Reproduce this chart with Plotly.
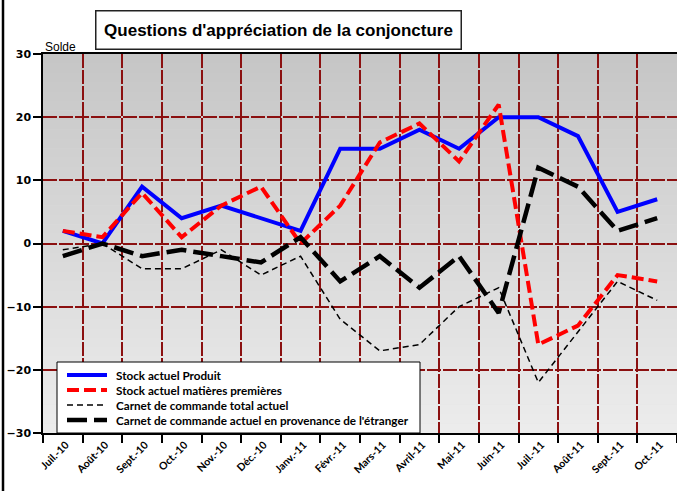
import plotly.graph_objects as go

months = ["Juil.-10", "Août-10", "Sept.-10", "Oct.-10", "Nov.-10", "Déc.-10", "Janv.-11",
          "Févr.-11", "Mars-11", "Avril-11", "Mai-11", "Juin-11", "Juil.-11", "Août-11",
          "Sept.-11", "Oct.-11"]
stock_produit = [2, 0, 9, 4, 6, 4, 2, 15, 15, 18, 15, 20, 20, 17, 5, 7]
stock_matieres = [2, 1, 8, 1, 6, 9, 0, 6, 16, 19, 13, 22, -16, -13, -5, -6]
carnet_total = [-1, 0, -4, -4, -1, -5, -2, -12, -17, -16, -10, -7, -22, -14, -6, -9]
carnet_etranger = [-2, 0, -2, -1, -2, -3, 1, -6, -2, -7, -2, -11, 12, 9, 2, 4]

names = ["Stock actuel Produit", "Stock actuel matières premières",
         "Carnet de commande total actuel",
         "Carnet de commande actuel en provenance de l'étranger"]
styles = [dict(color="#0000FF", width=4),
          dict(color="#FF0000", width=4, dash="12px,5px"),
          dict(color="#000000", width=1.5, dash="6px,4px"),
          dict(color="#000000", width=4.5, dash="20px,7px")]
series = [stock_produit, stock_matieres, carnet_total, carnet_etranger]

fig = go.Figure()
for nm, ys, st in zip(names, series, styles):
    fig.add_trace(go.Scatter(x=months, y=ys, name=nm, mode="lines", line=st))

# plot-area geometry in pixels (used for placing decorations)
L, T, W, H = 43, 54, 634, 379
def px(xp):
    return (xp - L) / W
def py(yp):
    return (T + H - yp) / H

# gradient background bands
shapes = []
n = 40
top = (198, 198, 198)
bot = (236, 236, 236)
for i in range(n):
    t = (i + 0.5) / n
    c = tuple(int(round(top[k] + (bot[k] - top[k]) * t)) for k in range(3))
    shapes.append(dict(type="rect", xref="x domain", yref="y domain",
                       x0=0, x1=1, y0=1 - (i + 1) / n, y1=1 - i / n + 0.001,
                       fillcolor="rgb(%d,%d,%d)" % c, line=dict(width=0), layer="below"))
# left frame border
shapes.append(dict(type="line", xref="paper", yref="paper", x0=px(3), x1=px(3),
                   y0=-0.2, y1=1.2, line=dict(color="black", width=2.5)))

# custom legend (box, samples, labels)
annotations = []
shapes.append(dict(type="rect", xref="paper", yref="paper", x0=px(57), x1=px(420),
                   y0=py(433), y1=py(362), fillcolor="white",
                   line=dict(color="black", width=1), layer="above"))
for k, (nm, st) in enumerate(zip(names, styles)):
    yc = py(375 + 15 * k)
    shapes.append(dict(type="line", xref="paper", yref="paper", x0=px(67), x1=px(107),
                       y0=yc, y1=yc, line=st, layer="above"))
    annotations.append(dict(text=nm, xref="paper", yref="paper", x=px(114), y=yc,
                            xanchor="left", yanchor="middle", showarrow=False,
                            font=dict(family="Lato, Carlito, sans-serif", size=11.7,
                                      weight="bold", color="black")))

annotations += [
    dict(text="<b>Questions d'appréciation de la conjoncture</b>", xref="paper", yref="paper",
         x=px(278.5), y=py(30.5), xanchor="center", yanchor="middle", showarrow=False,
         font=dict(family="Liberation Sans, Arial", size=17, color="black"),
         bgcolor="white", bordercolor="#222222", borderwidth=1.5,
         width=362, height=35, borderpad=1),
    dict(text="Solde", xref="paper", yref="paper", x=0.0, y=1.0, xanchor="left",
         yanchor="bottom", showarrow=False, yshift=-2,
         font=dict(family="Liberation Sans, Arial", size=12, color="black")),
]

fig.update_layout(
    width=677, height=491,
    margin=dict(l=L, r=0, t=T, b=491 - T - H),
    paper_bgcolor="white", plot_bgcolor="#dddddd",
    font=dict(family="Liberation Sans, Arial", color="black"),
    shapes=shapes,
    annotations=annotations,
    showlegend=False,
)

fig.update_xaxes(
    type="category", tickson="boundaries", range=[-0.5, 15.5],
    showgrid=True, gridcolor="#8B1010", gridwidth=1.5, griddash="14px,2px",
    showline=True, linecolor="black", linewidth=1.5, mirror=True,
    ticks="outside", ticklen=8, tickcolor="black", tickwidth=1.5,
    tickangle=-45, ticklabelshift=3,
    tickfont=dict(family="Lato, Carlito, sans-serif", size=10.5, weight="bold", color="black"),
)
fig.update_yaxes(
    range=[-30, 30], dtick=10, tick0=0,
    showgrid=True, gridcolor="#8B1010", gridwidth=1.5, griddash="14px,2px",
    zeroline=False,
    showline=True, linecolor="black", linewidth=1.5,
    ticks="outside", ticklen=8, tickcolor="black", tickwidth=1.5,
    tickfont=dict(family="DejaVu Sans", size=11, weight="bold", color="black"),
)

fig.write_html("out.html", config={"displayModeBar": False},
               post_script="document.body.style.margin='0';document.body.style.overflow='hidden';")
